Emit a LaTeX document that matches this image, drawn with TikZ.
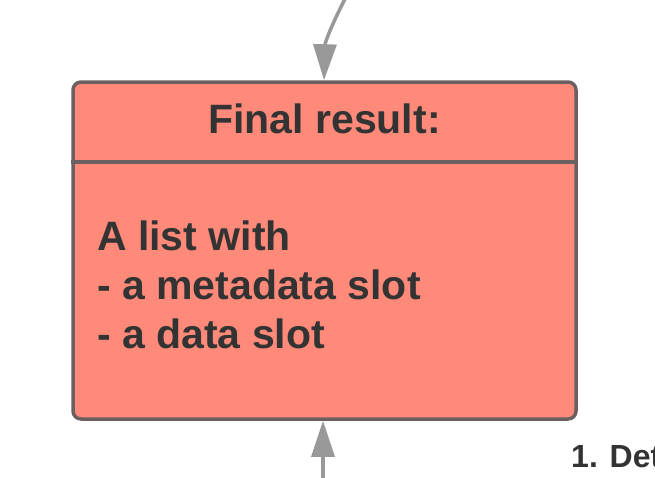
\documentclass[tikz,border=0pt]{standalone}
\usepackage{fontspec}
\setmainfont{Liberation Sans}
\usetikzlibrary{arrows.meta}
\definecolor{boxfill}{HTML}{FF8A7A}
\definecolor{boxline}{HTML}{6B6060}
\definecolor{arrowgray}{HTML}{999999}
\definecolor{textdark}{HTML}{333333}
\tikzset{
  resultbox/.style={draw=boxline, line width=3.5pt, fill=boxfill, rounded corners=8pt,
    minimum width=503pt, minimum height=337pt, inner sep=0pt},
  bigtext/.style={font=\bfseries\fontsize{41}{49}\selectfont, text=textdark, inner sep=0pt},
  labeltext/.style={font=\bfseries\fontsize{32}{38}\selectfont, text=textdark, inner sep=0pt},
  flowarrow/.style={draw=arrowgray, line width=3.5pt, -{Triangle[width=23pt,length=36pt]}}
}
\begin{document}
\begin{tikzpicture}[x=1pt,y=1pt]
\useasboundingbox (0,0) rectangle (655,-477);
\node[resultbox] (box) at (324.5,-250.5) {};
\draw[boxline, line width=3.5pt] (box.west |- 0,-162) coordinate (divl) -- (box.east |- 0,-162) coordinate (divr);
\node[bigtext, anchor=base] (title) at (324.5,-133) {Final result:};
\node[bigtext, anchor=north west, align=left] (body) at (97,-220.6) {A list with\\- a metadata slot\\- a data slot};
\node[labeltext, anchor=base west] (step) at (571,-467) {1. Det};
\coordinate (topstart) at (346,3);
\coordinate (botstart) at (323,-480);
\draw[flowarrow] (topstart) .. controls (333,-22) and (325,-42) .. (box.north -| 324,0);
\draw[flowarrow] (botstart) -- (box.south -| 323,0);
\end{tikzpicture}
\end{document}
